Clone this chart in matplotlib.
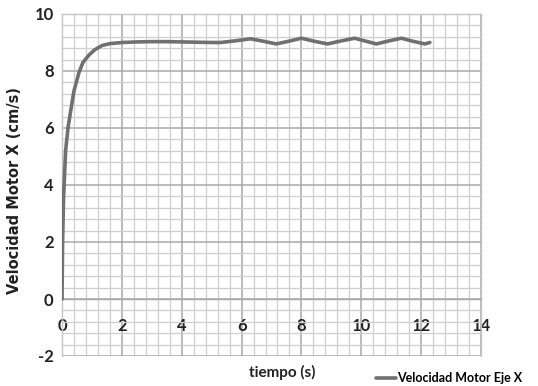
import numpy as np
import matplotlib.pyplot as plt
from matplotlib.ticker import MultipleLocator

# Velocity samples read from the test run
tiempo = [0.0, 0.02, 0.05, 0.12, 0.2, 0.29, 0.4, 0.57, 0.7, 0.9, 1.1, 1.35, 1.6, 2.0, 2.5,
          3.0, 3.5, 4.0, 4.5, 5.0, 5.3, 5.8, 6.3, 6.7, 7.16, 7.6, 8.0, 8.4, 8.87, 9.3,
          9.78, 10.1, 10.5, 10.9, 11.34, 11.7, 12.12, 12.29]
velocidad = [0.0, 2.0, 3.5, 5.2, 6.0, 6.6, 7.3, 7.96, 8.3, 8.56, 8.75, 8.9, 8.96, 9.0, 9.02,
             9.03, 9.03, 9.02, 9.01, 9.0, 9.0, 9.06, 9.13, 9.05, 8.95, 9.05, 9.15, 9.05, 8.95, 9.05,
             9.15, 9.06, 8.95, 9.05, 9.15, 9.05, 8.95, 9.0]

x_ticks = [0, 2, 4, 6, 8, 10, 12, 14]
y_ticks = [-2, 0, 2, 4, 6, 8, 10]

plt.rcParams['font.family'] = ['Lato', 'DejaVu Sans']
plt.rcParams['axes.unicode_minus'] = False

fig = plt.figure(figsize=(5.38, 3.86), dpi=100)
ax = fig.add_axes([62 / 538, 1 - 356 / 386, (481 - 62) / 538, (356 - 14) / 386])

ax.plot(tiempo, velocidad, color='#707070', lw=2.6, solid_capstyle='round',
        label='Velocidad Motor Eje X', zorder=3)

ax.set_xlim(0, 14)
ax.set_ylim(-2, 10)
ax.set_xticks(x_ticks)
ax.set_yticks(y_ticks)
ax.xaxis.set_minor_locator(MultipleLocator(0.4))
ax.yaxis.set_minor_locator(MultipleLocator(0.4))
ax.grid(which='major', color='#a8a8a8', lw=1.1, zorder=1)
ax.grid(which='minor', color='#cfcfcf', lw=0.9, zorder=0)
ax.set_axisbelow(True)

for s in ax.spines.values():
    s.set_color('#c4c4c4')
    s.set_linewidth(1.0)
ax.spines['bottom'].set_position(('data', 0))
ax.spines['bottom'].set_color('#a8a8a8')

ax.tick_params(which='both', length=0)
ax.tick_params(axis='x', pad=14, labelsize=12, labelcolor='#222222')
ax.tick_params(axis='y', pad=6, labelsize=12, labelcolor='#222222')
for lbl in ax.get_xticklabels() + ax.get_yticklabels():
    lbl.set_fontweight('bold')

fig.text(15 / 538, 1 - 190 / 386, 'Velocidad Motor X (cm/s)', rotation=90,
         ha='center', va='center', fontsize=10.5, fontweight='bold', color='#222222',
         family='DejaVu Sans')
fig.text(282 / 538, 1 - 372 / 386, 'tiempo (s)', ha='center', va='center',
         fontsize=11, fontweight='bold', color='#222222')

fig.legend(loc='center left', bbox_to_anchor=(376 / 538, 1 - 378 / 386), frameon=False,
           handlelength=1.6, handletextpad=0.1, borderpad=0, borderaxespad=0,
           prop={'weight': 'bold', 'size': 9})

fig.savefig('out.png', dpi=100)
